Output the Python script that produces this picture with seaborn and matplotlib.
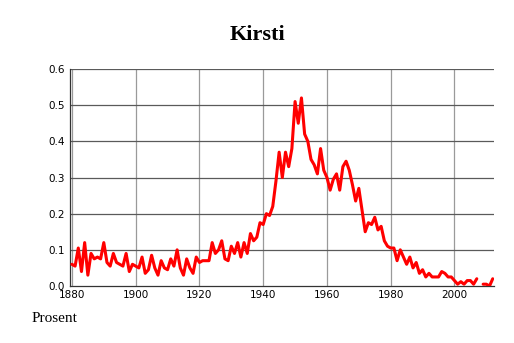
import numpy as np
import pandas as pd
import matplotlib
matplotlib.use("Agg")
import matplotlib.pyplot as plt
import seaborn as sns

years = list(range(1880, 2013))
values = [
    0.060, 0.055, 0.105, 0.040, 0.120, 0.030, 0.090, 0.075, 0.080, 0.075,  # 1880-1889
    0.120, 0.065, 0.055, 0.090, 0.065, 0.060, 0.055, 0.090, 0.040, 0.060,  # 1890-1899
    0.055, 0.050, 0.080, 0.035, 0.045, 0.085, 0.050, 0.030, 0.070, 0.050,  # 1900-1909
    0.045, 0.075, 0.055, 0.100, 0.050, 0.030, 0.075, 0.050, 0.035, 0.080,  # 1910-1919
    0.065, 0.070, 0.070, 0.070, 0.120, 0.090, 0.100, 0.125, 0.075, 0.070,  # 1920-1929
    0.110, 0.090, 0.120, 0.080, 0.120, 0.090, 0.145, 0.125, 0.135, 0.175,  # 1930-1939
    0.170, 0.200, 0.195, 0.220, 0.290, 0.370, 0.300, 0.370, 0.330, 0.380,  # 1940-1949
    0.510, 0.450, 0.520, 0.420, 0.400, 0.350, 0.335, 0.310, 0.380, 0.320,  # 1950-1959
    0.300, 0.265, 0.295, 0.310, 0.265, 0.330, 0.345, 0.320, 0.280, 0.235,  # 1960-1969
    0.270, 0.210, 0.150, 0.175, 0.170, 0.190, 0.155, 0.165, 0.125, 0.110,  # 1970-1979
    0.105, 0.105, 0.070, 0.100, 0.080, 0.060, 0.080, 0.050, 0.065, 0.035,  # 1980-1989
    0.045, 0.025, 0.035, 0.025, 0.025, 0.025, 0.040, 0.035, 0.025, 0.025,  # 1990-1999
    0.015, 0.005, 0.012, 0.005, 0.015, 0.015, 0.005, 0.020, np.nan, 0.005,  # 2000-2009
    0.005, 0.000, 0.020,                                                    # 2010-2012
]
title = "Kirsti"
ylabel_text = "Prosent"
xticks = [1880, 1900, 1920, 1940, 1960, 1980, 2000]
yticks = [0.0, 0.1, 0.2, 0.3, 0.4, 0.5, 0.6]

df = pd.DataFrame({"year": years, "value": values})
df["segment"] = df["value"].isna().cumsum()
df = df.dropna()

sns.set_style("white")
fig = plt.figure(figsize=(5.14, 3.43), dpi=100)
ax = fig.add_axes([70 / 514, 1 - 286 / 343, 424 / 514, 217 / 343])

for x in xticks:
    ax.axvline(x, color="#9a9a9a", lw=0.9, zorder=1)
for y in yticks[1:]:
    ax.axhline(y, color="#5a5a5a", lw=0.9, zorder=1)

sns.lineplot(data=df, x="year", y="value", units="segment", estimator=None,
             color="#ff0000", lw=2.2, ax=ax, zorder=3, legend=False)

ax.set_xlim(1879.4, 2012.4)
ax.set_ylim(0, 0.6)
ax.set_xticks(xticks)
ax.set_xticks(list(range(1885, 2012, 5)), minor=True)
ax.set_yticks(yticks)
ax.set_xticklabels([str(x) for x in xticks], fontsize=7.5, family="DejaVu Sans")
ax.set_yticklabels([f"{y:.1f}" for y in yticks], fontsize=7.5, family="DejaVu Sans")
ax.tick_params(axis="x", which="both", direction="in", length=3, width=0.6,
               colors="#333333", pad=3, labelcolor="black")
ax.tick_params(axis="x", which="major", length=4)
ax.tick_params(axis="y", length=0, pad=4, labelcolor="black")
ax.set_xlabel("")
ax.set_ylabel("")
for s in ["top", "right"]:
    ax.spines[s].set_visible(False)
ax.spines["left"].set_color("#333333")
ax.spines["left"].set_linewidth(0.9)
ax.spines["bottom"].set_color("#333333")
ax.spines["bottom"].set_linewidth(0.9)

fig.text(0.5, 1 - 35 / 343, title, ha="center", va="center", color="black",
         fontsize=16, fontweight="bold", family="Liberation Serif")
fig.text(32 / 514, 1 - 318 / 343, ylabel_text, ha="left", va="center",
         color="black", fontsize=11, family="Liberation Serif")

fig.savefig("out.png", dpi=100)
